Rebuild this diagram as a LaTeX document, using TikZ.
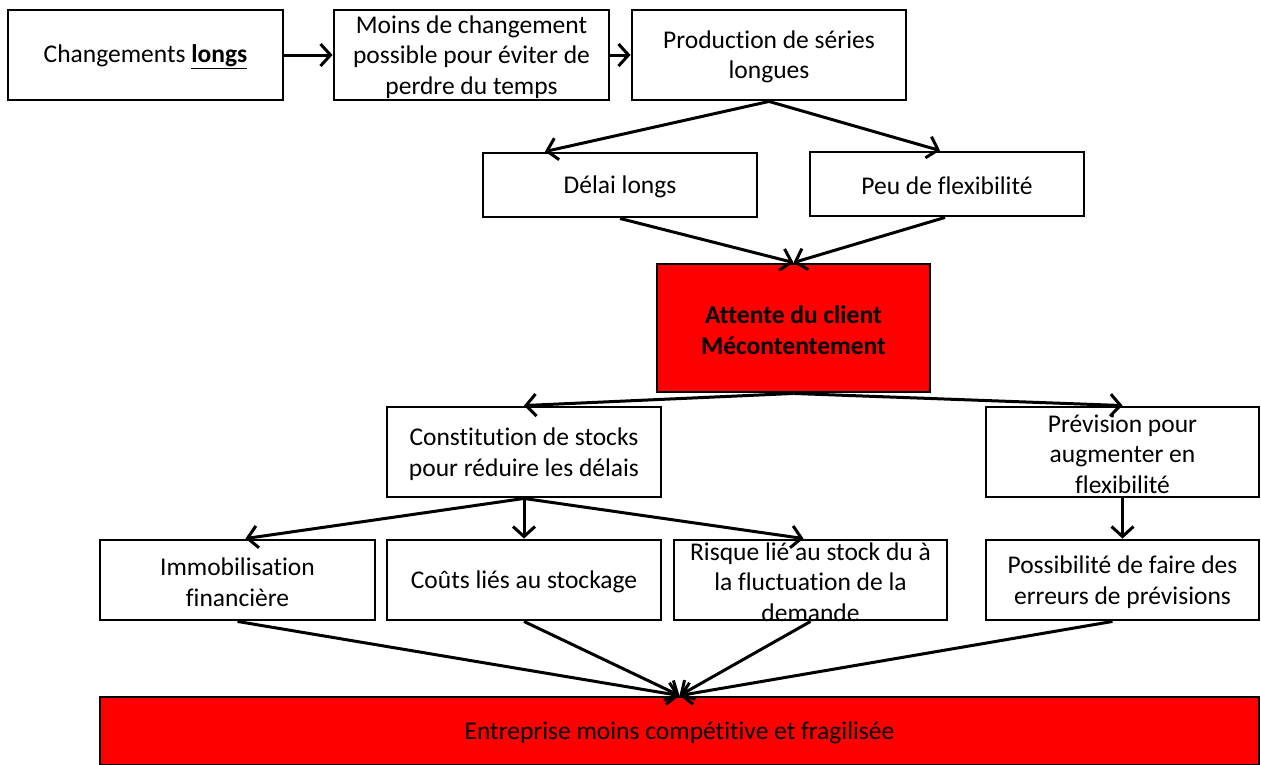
\documentclass[tikz,border=0pt]{standalone}
\usepackage{fontspec}
\setmainfont{Carlito}[RawFeature={-liga}]
\usetikzlibrary{arrows.meta}
\begin{document}
\begin{tikzpicture}[x=1pt,y=-1pt,
  box/.style={draw=black,line width=2.9pt,fill=white,rectangle,inner sep=0pt},
  redbox/.style={box,fill=red},
  txt/.style={align=center,font=\fontsize{25.5}{30.5}\selectfont,text=black,inner sep=0pt,yshift=-2pt},
  arr/.style={line width=3pt,-{Straight Barb[length=10pt,width=22pt,line width=3pt]}}
]
\useasboundingbox (0,0) rectangle (1261,764);
\node[box,minimum width=275,minimum height=90] (A) at (145.5,55) {};
\node[txt] at (A) {Changements \textbf{\underline{longs}}};
\node[box,minimum width=275,minimum height=90] (B) at (471.5,55) {};
\node[txt] at (B) {Moins de changement\\possible pour éviter de\\perdre du temps};
\node[box,minimum width=274,minimum height=90] (C) at (769,55) {};
\node[txt] at (C) {Production de séries\\longues};
\node[box,minimum width=274,minimum height=64] (D) at (620,185) {};
\node[txt] at (D) {Délai longs};
\node[box,minimum width=274,minimum height=64] (E) at (947,184) {};
\node[txt] at (E) {Peu de flexibilité};
\node[redbox,minimum width=273,minimum height=128] (F) at (793.5,328) {};
\node[txt,font=\fontsize{25.5}{30.5}\selectfont\bfseries] at (F) {Attente du client\\Mécontentement};
\node[box,minimum width=274,minimum height=90] (G) at (524,452) {};
\node[txt] at (G) {Constitution de stocks\\pour réduire les délais};
\node[box,minimum width=273,minimum height=90] (H) at (1122.5,452) {};
\node[txt] at (H) {Prévision pour\\augmenter en\\flexibilité};
\node[box,minimum width=275,minimum height=80] (I) at (237.5,580) {};
\node[txt] at (I) {Immobilisation\\financière};
\node[box,minimum width=274,minimum height=80] (J) at (524,580) {};
\node[txt] at (J) {Coûts liés au stockage};
\node[box,minimum width=273,minimum height=80] (K) at (810.5,580) {};
\node[txt] at (K) {Risque lié au stock du à\\la fluctuation de la\\demande};
\node[box,minimum width=273,minimum height=80] (L) at (1122.5,580) {};
\node[txt] at (L) {Possibilité de faire des\\erreurs de prévisions};
\node[redbox,minimum width=1159,minimum height=68] (M) at (679.5,731) {};
\node[txt] at (M) {Entreprise moins compétitive et fragilisée};
% connectors
\draw[arr] (A.east) -- (B.west);
\draw[arr] (B.east) -- (C.west);
\coordinate (Dt) at ([xshift=-75pt]D.north);
\coordinate (Et) at ([xshift=-7pt]E.north);
\draw[arr] (C.south) -- (Dt);
\draw[arr] (C.south) -- (Et);
\draw[arr] (D.south) -- (F.north);
\draw[arr] ([xshift=-2pt]E.south) -- (F.north);
\draw[arr] (F.south) -- (G.north);
\draw[arr] (F.south) -- (H.north);
\coordinate (It) at ([xshift=8pt]I.north);
\coordinate (Kt) at ([xshift=-7pt]K.north);
\draw[arr] (G.south) -- (It);
\draw[arr] (G.south) -- (J.north);
\draw[arr] (G.south) -- (Kt);
\draw[arr] (H.south) -- (L.north);
\draw[arr] (I.south) -- (M.north);
\draw[arr] (J.south) -- (M.north);
\draw[arr] (K.south) -- (M.north);
\draw[arr] ([xshift=-10pt]L.south) -- (M.north);
\end{tikzpicture}
\end{document}
